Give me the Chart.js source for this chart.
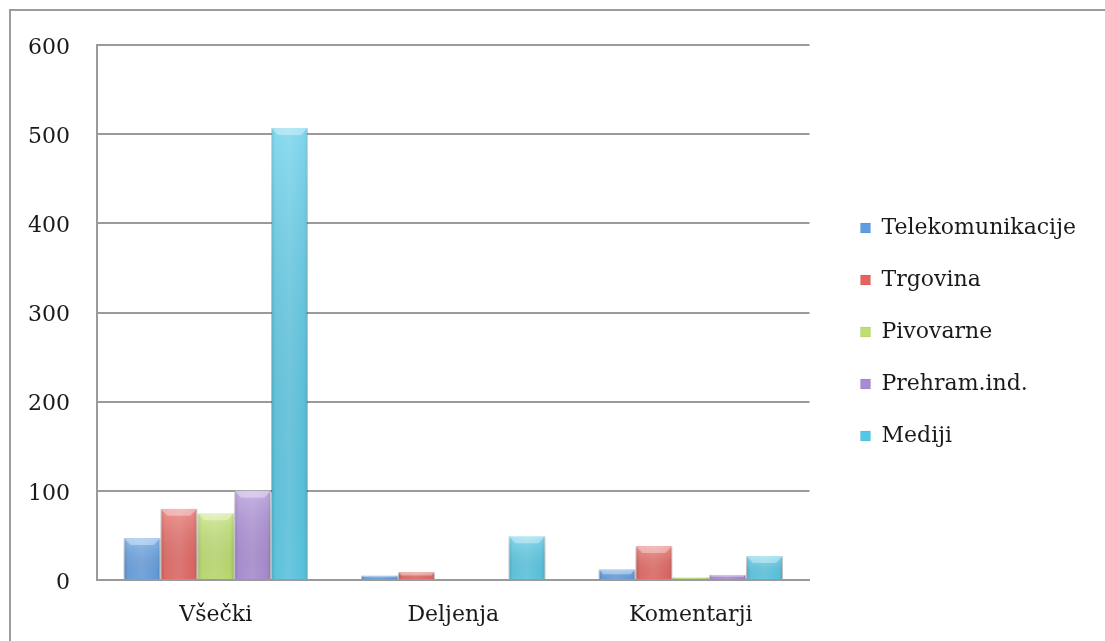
<!DOCTYPE html>
<html>
<head>
<meta charset="utf-8">
<script src="https://cdn.jsdelivr.net/npm/chart.js@4/dist/chart.umd.min.js"></script>
<style>
  html, body { margin: 0; padding: 0; background: #ffffff; }
  #wrap { position: relative; width: 1105px; height: 641px; }
  canvas { display: block; }
</style>
</head>
<body>
<div id="wrap"><canvas id="chart" width="1105" height="641"></canvas></div>
<script>
// Categories on the x axis
const categories = ['Všečki', 'Deljenja', 'Komentarji'];

// One series per industry
const seriesNames = ['Telekomunikacije', 'Trgovina', 'Pivovarne', 'Prehram.ind.', 'Mediji'];
const telekomunikacije = [47, 5, 12];
const trgovina = [80, 9, 38];
const pivovarne = [75, 0, 3];
const prehram = [100, 1, 6];
const mediji = [507, 49, 27];

// Value axis
const yTicks = [0, 100, 200, 300, 400, 500, 600];

const seriesValues = [telekomunikacije, trgovina, pivovarne, prehram, mediji];
const seriesColors = ['#5f9de3', '#e5625d', '#bde06a', '#a98ad6', '#52c8e6'];

const FONT = "'DejaVu Serif', serif";
const FONT_SIZE = 22;

// Outer frame around the whole figure
const framePlugin = {
  id: 'frame',
  beforeDraw(chart) {
    const ctx = chart.ctx;
    ctx.save();
    ctx.strokeStyle = '#9c9c9c';
    ctx.lineWidth = 2;
    ctx.strokeRect(10, 10, chart.width + 20, chart.height + 20);
    ctx.restore();
  }
};

// Move the legend block a little away from the plot and up
const legendInset = { x: 21, y: -11 };
const legendShift = {
  id: 'legendShift',
  afterLayout(chart) {
    const lg = chart.legend;
    if (lg) {
      lg.left += legendInset.x;
      lg.right += legendInset.x;
      lg.top += legendInset.y;
      lg.bottom += legendInset.y;
    }
  }
};

// Glossy bevel on each bar, drawn over the flat fill
const bevelPlugin = {
  id: 'bevel',
  afterDatasetsDraw(chart) {
    const ctx = chart.ctx;
    chart.data.datasets.forEach((ds, di) => {
      const meta = chart.getDatasetMeta(di);
      meta.data.forEach((bar) => {
        const { x, y, base, width } = bar.getProps(['x', 'y', 'base', 'width'], true);
        const h = base - y;
        if (h < 0.5) return;
        const left = x - width / 2;
        ctx.save();
        // side shading
        const g = ctx.createLinearGradient(left, 0, left + width, 0);
        g.addColorStop(0, 'rgba(0,0,0,0.14)');
        g.addColorStop(0.12, 'rgba(255,255,255,0.10)');
        g.addColorStop(0.5, 'rgba(255,255,255,0.18)');
        g.addColorStop(0.88, 'rgba(255,255,255,0.06)');
        g.addColorStop(1, 'rgba(0,0,0,0.18)');
        ctx.fillStyle = g;
        ctx.fillRect(left, y, width, h);
        // vertical light-to-base
        const gv = ctx.createLinearGradient(0, y, 0, base);
        gv.addColorStop(0, 'rgba(255,255,255,0.22)');
        gv.addColorStop(1, 'rgba(0,0,0,0.05)');
        ctx.fillStyle = gv;
        ctx.fillRect(left, y, width, h);
        // top bevel
        const bev = Math.min(7, h / 2);
        ctx.beginPath();
        ctx.moveTo(left, y);
        ctx.lineTo(left + width, y);
        ctx.lineTo(left + width - bev, y + bev);
        ctx.lineTo(left + bev, y + bev);
        ctx.closePath();
        ctx.fillStyle = 'rgba(255,255,255,0.35)';
        ctx.fill();
        ctx.restore();
      });
    });
  }
};

const datasets = seriesNames.map((name, i) => ({
  label: name,
  data: seriesValues[i],
  backgroundColor: seriesColors[i],
  borderColor: 'rgba(0,0,0,0.12)',
  borderWidth: { top: 0, left: 1, right: 1, bottom: 0 },
  categoryPercentage: 0.776,
  barPercentage: 1.0
}));

new Chart(document.getElementById('chart'), {
  type: 'bar',
  data: { labels: categories, datasets },
  plugins: [framePlugin, legendShift, bevelPlugin],
  options: {
    responsive: false,
    animation: false,
    devicePixelRatio: 1,
    layout: { padding: { top: 45, right: 40, bottom: 0, left: 0 } },
    plugins: {
      tooltip: { enabled: false },
      legend: {
        position: 'right',
        align: 'center',
        labels: {
          boxWidth: 10,
          boxHeight: 10,
          padding: 30,
          color: '#1a1a1a',
          font: { family: FONT, size: FONT_SIZE }
        }
      }
    },
    scales: {
      x: {
        grid: { display: false, drawTicks: false },
        border: { display: true, color: '#9a9a9a', width: 2 },
        ticks: { color: '#1a1a1a', padding: 22, font: { family: FONT, size: FONT_SIZE } },
        afterFit(scale) { scale.height = 61; }
      },
      y: {
        min: 0,
        max: 600,
        afterBuildTicks(scale) { scale.ticks = yTicks.map(v => ({ value: v })); },
        grid: { color: '#9a9a9a', lineWidth: 2, drawTicks: false },
        border: { display: true, color: '#9a9a9a', width: 2 },
        ticks: { color: '#1a1a1a', padding: 27, labelOffset: 3, font: { family: FONT, size: FONT_SIZE } },
        afterFit(scale) { scale.width = 97; }
      }
    }
  }
});
</script>
</body>
</html>
